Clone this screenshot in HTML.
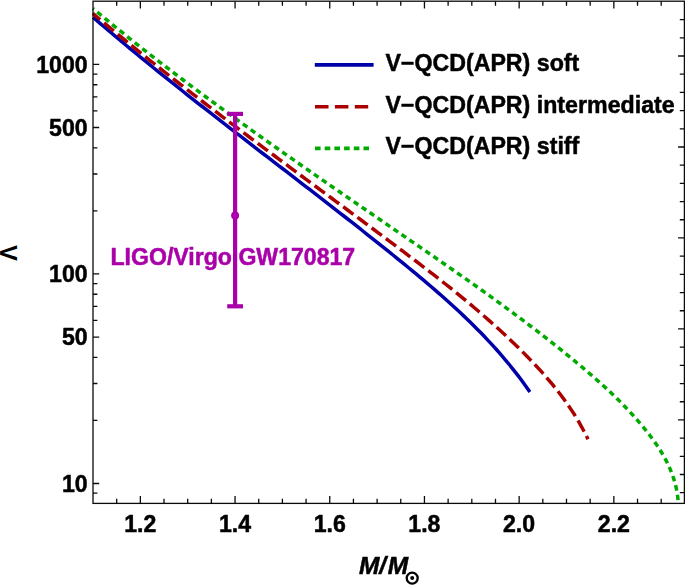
<!DOCTYPE html>
<html><head><meta charset="utf-8"><title>plot</title>
<style>html,body{margin:0;padding:0;background:#fff}body{width:685px;height:585px;overflow:hidden;font-family:"Liberation Sans",sans-serif}</style></head>
<body>
<svg width="685" height="585" viewBox="0 0 685 585" style="display:block">
<rect width="685" height="585" fill="#fff"/>
<filter id="nf" x="0" y="0" width="685" height="585" filterUnits="userSpaceOnUse"><feOffset dx="0" dy="0"/></filter>
<clipPath id="c"><rect x="92.0" y="1.2" width="592.4" height="502.2"/></clipPath>
<g fill="none" stroke-width="3.5" clip-path="url(#c)">
<path d="M93.01 17.25 L96.69 20.42 L100.37 23.58 L104.06 26.74 L107.76 29.88 L111.46 33.02 L115.17 36.15 L118.89 39.27 L122.61 42.38 L126.34 45.48 L130.07 48.58 L133.81 51.67 L137.55 54.75 L141.30 57.83 L145.06 60.90 L148.82 63.96 L152.58 67.01 L156.35 70.06 L160.12 73.11 L163.90 76.15 L167.68 79.18 L171.47 82.20 L175.26 85.23 L179.05 88.24 L182.85 91.25 L186.65 94.26 L190.45 97.26 L194.26 100.26 L198.07 103.26 L201.89 106.25 L205.70 109.23 L209.52 112.22 L213.35 115.20 L217.17 118.18 L221.00 121.15 L224.83 124.12 L228.66 127.09 L232.49 130.06 L236.32 133.02 L240.16 135.99 L244.00 138.95 L247.84 141.91 L251.68 144.87 L255.52 147.82 L259.36 150.78 L263.20 153.74 L267.04 156.69 L270.89 159.65 L274.73 162.60 L278.58 165.56 L282.42 168.51 L286.26 171.47 L290.11 174.43 L293.95 177.38 L297.79 180.34 L301.63 183.30 L305.48 186.27 L309.32 189.23 L313.15 192.19 L316.99 195.16 L320.83 198.13 L324.66 201.10 L328.50 204.08 L332.33 207.05 L336.16 210.03 L339.98 213.02 L343.81 216.00 L347.63 219.00 L351.45 221.99 L355.27 224.99 L359.08 227.99 L362.89 231.00 L366.70 234.01 L370.50 237.03 L374.31 240.05 L378.10 243.07 L381.90 246.11 L385.69 249.14 L389.47 252.19 L393.26 255.24 L397.03 258.29 L400.81 261.36 L404.57 264.43 L408.33 267.51 L412.08 270.59 L415.83 273.69 L419.56 276.80 L423.28 279.93 L426.99 283.06 L430.68 286.22 L434.36 289.38 L438.02 292.56 L441.67 295.76 L445.30 298.98 L448.91 302.22 L452.50 305.47 L456.07 308.75 L459.61 312.05 L463.14 315.37 L466.63 318.72 L470.11 322.09 L473.55 325.48 L476.97 328.90 L480.37 332.35 L483.73 335.82 L487.06 339.33 L490.36 342.87 L493.62 346.43 L496.86 350.03 L500.05 353.66 L503.21 357.32 L506.34 361.02 L509.42 364.76 L512.47 368.53 L515.48 372.34 L518.44 376.18 L521.37 380.07 L524.24 384.00 L527.08 387.96 L529.87 391.97" stroke="#0000aa"/>
<path d="M92.79 13.40 L96.42 16.47 L100.04 19.52 L103.67 22.57 L107.31 25.61 L110.95 28.64 L114.60 31.66 L118.25 34.68 L121.91 37.69 L125.57 40.69 L129.24 43.68 L132.91 46.67 L136.59 49.65 L140.27 52.62 L143.96 55.59 L147.65 58.55 L151.34 61.50 L155.04 64.44 L158.74 67.38 L162.45 70.32 L166.16 73.25 L169.87 76.17 L173.59 79.09 L177.31 82.00 L181.04 84.91 L184.76 87.81 L188.50 90.70 L192.23 93.59 L195.97 96.48 L199.71 99.36 L203.46 102.24 L207.20 105.11 L210.96 107.98 L214.71 110.85 L218.47 113.71 L222.22 116.57 L225.99 119.42 L229.75 122.27 L233.52 125.12 L237.29 127.96 L241.06 130.81 L244.83 133.64 L248.60 136.48 L252.38 139.31 L256.16 142.14 L259.94 144.97 L263.72 147.80 L267.51 150.62 L271.29 153.45 L275.08 156.27 L278.87 159.09 L282.66 161.90 L286.45 164.72 L290.24 167.54 L294.04 170.35 L297.83 173.16 L301.63 175.98 L305.42 178.79 L309.22 181.60 L313.02 184.41 L316.81 187.22 L320.61 190.04 L324.41 192.85 L328.21 195.66 L332.01 198.47 L335.81 201.29 L339.61 204.10 L343.41 206.91 L347.21 209.73 L351.00 212.55 L354.80 215.37 L358.60 218.19 L362.40 221.01 L366.20 223.83 L369.99 226.65 L373.79 229.48 L377.58 232.31 L381.38 235.14 L385.17 237.98 L388.96 240.81 L392.75 243.65 L396.54 246.49 L400.33 249.34 L404.12 252.19 L407.90 255.05 L411.67 257.91 L415.45 260.77 L419.21 263.65 L422.97 266.53 L426.73 269.42 L430.48 272.31 L434.22 275.22 L437.95 278.14 L441.67 281.06 L445.38 284.00 L449.08 286.95 L452.78 289.91 L456.46 292.89 L460.12 295.87 L463.78 298.87 L467.42 301.89 L471.05 304.92 L474.66 307.97 L478.26 311.03 L481.84 314.11 L485.40 317.21 L488.95 320.33 L492.48 323.46 L495.99 326.61 L499.49 329.79 L502.96 332.98 L506.41 336.20 L509.84 339.44 L513.25 342.70 L516.64 345.98 L520.00 349.29 L523.35 352.62 L526.66 355.97 L529.95 359.35 L533.21 362.76 L536.44 366.20 L539.64 369.67 L542.79 373.18 L545.91 376.71 L548.98 380.29 L552.01 383.90 L554.98 387.55 L557.91 391.24 L560.78 394.97 L563.59 398.74 L566.35 402.57 L569.04 406.43 L571.66 410.35 L574.22 414.32 L576.70 418.34 L579.11 422.41 L581.45 426.54 L583.70 430.72 L585.88 434.96 L587.96 439.26" stroke="#aa0000" stroke-dasharray="12.7 5.045" stroke-dashoffset="3.0"/>
<path d="M92.96 8.52 L95.45 10.60 L97.95 12.68 L100.45 14.75 L102.95 16.82 L105.45 18.88 L107.96 20.94 L110.47 22.99 L112.99 25.05 L115.51 27.09 L118.03 29.14 L120.55 31.17 L123.08 33.21 L125.61 35.24 L128.14 37.27 L130.67 39.29 L133.21 41.31 L135.75 43.33 L138.30 45.34 L140.84 47.35 L143.39 49.35 L145.94 51.36 L148.50 53.35 L151.05 55.35 L153.61 57.34 L156.17 59.33 L158.74 61.31 L161.31 63.29 L163.88 65.27 L166.45 67.24 L169.02 69.22 L171.60 71.18 L174.18 73.15 L176.76 75.11 L179.34 77.07 L181.93 79.02 L184.52 80.98 L187.11 82.93 L189.70 84.87 L192.29 86.82 L194.89 88.76 L197.49 90.70 L200.09 92.63 L202.69 94.56 L205.30 96.49 L207.91 98.42 L210.52 100.35 L213.13 102.27 L215.74 104.19 L218.35 106.10 L220.97 108.02 L223.59 109.93 L226.21 111.84 L228.83 113.75 L231.45 115.65 L234.08 117.56 L236.71 119.46 L239.34 121.36 L241.97 123.25 L244.60 125.15 L247.23 127.04 L249.87 128.93 L252.50 130.82 L255.14 132.70 L257.78 134.58 L260.42 136.47 L263.06 138.35 L265.71 140.23 L268.35 142.10 L271.00 143.98 L273.64 145.85 L276.29 147.72 L278.94 149.59 L281.59 151.46 L284.25 153.33 L286.90 155.19 L289.55 157.06 L292.21 158.92 L294.86 160.78 L297.52 162.64 L300.18 164.50 L302.84 166.35 L305.50 168.21 L308.16 170.06 L310.82 171.92 L313.49 173.77 L316.15 175.62 L318.81 177.47 L321.48 179.32 L324.14 181.17 L326.81 183.01 L329.48 184.86 L332.15 186.70 L334.81 188.55 L337.48 190.39 L340.15 192.24 L342.82 194.08 L345.49 195.92 L348.16 197.76 L350.84 199.60 L353.51 201.44 L356.18 203.28 L358.85 205.12 L361.52 206.96 L364.20 208.79 L366.87 210.63 L369.54 212.47 L372.22 214.30 L374.89 216.14 L377.57 217.98 L380.24 219.81 L382.91 221.65 L385.59 223.48 L388.26 225.32 L390.94 227.16 L393.61 228.99 L396.29 230.83 L398.96 232.66 L401.63 234.50 L404.31 236.33 L406.98 238.17 L409.65 240.01 L412.33 241.84 L415.00 243.68 L417.67 245.52 L420.35 247.36 L423.02 249.20 L425.69 251.03 L428.36 252.88 L431.03 254.72 L433.70 256.56 L436.36 258.40 L439.03 260.25 L441.70 262.09 L444.36 263.94 L447.02 265.79 L449.69 267.64 L452.35 269.50 L455.01 271.35 L457.66 273.21 L460.32 275.07 L462.97 276.93 L465.63 278.79 L468.28 280.66 L470.93 282.53 L473.57 284.40 L476.22 286.28 L478.86 288.15 L481.50 290.03 L484.14 291.92 L486.77 293.81 L489.41 295.70 L492.04 297.59 L494.66 299.49 L497.29 301.39 L499.91 303.30 L502.53 305.21 L505.15 307.12 L507.76 309.04 L510.37 310.96 L512.98 312.89 L515.58 314.82 L518.18 316.75 L520.78 318.69 L523.37 320.64 L525.96 322.59 L528.55 324.54 L531.13 326.50 L533.71 328.47 L536.28 330.44 L538.85 332.42 L541.42 334.40 L543.98 336.39 L546.54 338.38 L549.09 340.38 L551.64 342.38 L554.19 344.40 L556.73 346.41 L559.26 348.44 L561.79 350.47 L564.32 352.51 L566.84 354.55 L569.36 356.60 L571.87 358.66 L574.37 360.72 L576.87 362.80 L579.37 364.88 L581.86 366.96 L584.34 369.06 L586.81 371.16 L589.28 373.28 L591.74 375.40 L594.19 377.54 L596.62 379.69 L599.05 381.84 L601.47 384.01 L603.87 386.20 L606.26 388.39 L608.64 390.60 L611.00 392.83 L613.35 395.07 L615.68 397.32 L617.99 399.59 L620.29 401.88 L622.57 404.19 L624.83 406.51 L627.07 408.85 L629.30 411.21 L631.50 413.59 L633.68 415.98 L635.84 418.40 L637.98 420.84 L640.09 423.30 L642.18 425.78 L644.25 428.29 L646.29 430.82 L648.30 433.37 L650.28 435.95 L652.22 438.55 L654.13 441.18 L655.99 443.83 L657.80 446.51 L659.57 449.23 L661.27 451.97 L662.92 454.74 L664.51 457.54 L666.03 460.38 L667.48 463.25 L668.86 466.15 L670.16 469.09 L671.38 472.07 L672.51 475.08 L673.56 478.12 L674.51 481.21 L675.37 484.34 L676.12 487.50 L676.77 490.71 L677.32 493.96 L677.75 497.25 L678.06 500.58" stroke="#00aa00" stroke-dasharray="5.5 4.167" stroke-dashoffset="4.09"/>
</g>
<g stroke="#aa00aa" stroke-width="4.2" fill="#aa00aa">
<line x1="235.1" y1="113.9" x2="235.1" y2="306.3"/>
<line x1="227.2" y1="113.9" x2="243" y2="113.9"/>
<line x1="227.2" y1="306.3" x2="243" y2="306.3"/>
<circle cx="235.1" cy="215.4" r="4" stroke="none"/>
</g>
<g stroke="#0a0a0a" fill="none">
<rect x="93.0" y="1.2" width="591.4" height="502.2" stroke-width="1.3"/>
<path d="M116.68 503.35 v-4.50 M116.68 1.20 v4.50 M140.35 503.35 v-7.40 M140.35 1.20 v7.40 M164.02 503.35 v-4.50 M164.02 1.20 v4.50 M187.70 503.35 v-4.50 M187.70 1.20 v4.50 M211.38 503.35 v-4.50 M211.38 1.20 v4.50 M235.05 503.35 v-7.40 M235.05 1.20 v7.40 M258.73 503.35 v-4.50 M258.73 1.20 v4.50 M282.40 503.35 v-4.50 M282.40 1.20 v4.50 M306.07 503.35 v-4.50 M306.07 1.20 v4.50 M329.75 503.35 v-7.40 M329.75 1.20 v7.40 M353.43 503.35 v-4.50 M353.43 1.20 v4.50 M377.10 503.35 v-4.50 M377.10 1.20 v4.50 M400.77 503.35 v-4.50 M400.77 1.20 v4.50 M424.45 503.35 v-7.40 M424.45 1.20 v7.40 M448.12 503.35 v-4.50 M448.12 1.20 v4.50 M471.80 503.35 v-4.50 M471.80 1.20 v4.50 M495.48 503.35 v-4.50 M495.48 1.20 v4.50 M519.15 503.35 v-7.40 M519.15 1.20 v7.40 M542.83 503.35 v-4.50 M542.83 1.20 v4.50 M566.50 503.35 v-4.50 M566.50 1.20 v4.50 M590.18 503.35 v-4.50 M590.18 1.20 v4.50 M613.85 503.35 v-7.40 M613.85 1.20 v7.40 M637.52 503.35 v-4.50 M637.52 1.20 v4.50 M661.20 503.35 v-4.50 M661.20 1.20 v4.50 M93.00 64.45 h6.20 M93.00 74.04 h4.40 M93.00 84.75 h4.40 M93.00 96.91 h4.40 M93.00 110.93 h4.40 M93.00 127.52 h6.20 M93.00 147.83 h4.40 M93.00 174.00 h4.40 M93.00 210.90 h4.40 M93.00 273.97 h6.20 M93.00 283.56 h4.40 M93.00 294.27 h4.40 M93.00 306.43 h4.40 M93.00 320.45 h4.40 M93.00 337.04 h6.20 M93.00 357.35 h4.40 M93.00 383.52 h4.40 M93.00 420.42 h4.40 M93.00 483.49 h6.20 M93.00 493.08 h4.40 M684.40 19.60 h-4.60 M684.40 37.79 h-4.60 M684.40 55.99 h-6.30 M684.40 74.19 h-4.60 M684.40 92.39 h-4.60 M684.40 110.58 h-4.60 M684.40 128.78 h-4.60 M684.40 146.98 h-6.30 M684.40 165.17 h-4.60 M684.40 183.37 h-4.60 M684.40 201.57 h-4.60 M684.40 219.76 h-4.60 M684.40 237.96 h-6.30 M684.40 256.16 h-4.60 M684.40 274.35 h-4.60 M684.40 292.55 h-4.60 M684.40 310.75 h-4.60 M684.40 328.95 h-6.30 M684.40 347.14 h-4.60 M684.40 365.34 h-4.60 M684.40 383.54 h-4.60 M684.40 401.73 h-4.60 M684.40 419.93 h-6.30 M684.40 438.13 h-4.60 M684.40 456.32 h-4.60 M684.40 474.52 h-4.60 M684.40 492.72 h-4.60" stroke-width="1.3"/>
</g>
<g fill="none" stroke-width="3.6">
<line x1="314.8" y1="64.9" x2="373.6" y2="64.9" stroke="#0000aa"/>
<line x1="315" y1="106.8" x2="368.2" y2="106.8" stroke="#aa0000" stroke-dasharray="13.5 6.4"/>
<line x1="315" y1="148.4" x2="369" y2="148.4" stroke="#00aa00" stroke-dasharray="5.6 4.1"/>
</g>
<g font-family="Liberation Sans, sans-serif" font-weight="bold" font-size="23.1px" fill="#000" stroke="#000" stroke-width="0.5" stroke-linejoin="round" filter="url(#nf)">
<text x="385.4" y="70.7" font-size="23.2px" id="lg0">V−QCD(APR) soft</text>
<text x="385.4" y="112.5" font-size="23.2px" id="lg1">V−QCD(APR) intermediate</text>
<text x="385.4" y="154.2" font-size="23.2px" id="lg2">V−QCD(APR) stiff</text>
<text x="87.6" y="72.5" text-anchor="end" id="yl1000">1000</text>
<text x="87.6" y="135.5" text-anchor="end" id="yl500">500</text>
<text x="87.6" y="282.0" text-anchor="end" id="yl100">100</text>
<text x="87.6" y="345.0" text-anchor="end" id="yl50">50</text>
<text x="87.6" y="491.5" text-anchor="end" id="yl10">10</text>
<text x="140.3" y="532.2" text-anchor="middle" id="xl12">1.2</text>
<text x="235.0" y="532.2" text-anchor="middle" id="xl14">1.4</text>
<text x="329.8" y="532.2" text-anchor="middle" id="xl16">1.6</text>
<text x="424.4" y="532.2" text-anchor="middle" id="xl18">1.8</text>
<text x="519.1" y="532.2" text-anchor="middle" id="xl20">2.0</text>
<text x="613.9" y="532.2" text-anchor="middle" id="xl22">2.2</text>
<text x="110.5" y="264.7" fill="#aa00aa" stroke="#aa00aa" id="ligo">LIGO/Virgo GW170817</text>
<g font-style="italic" font-size="23.1px">
<text transform="translate(358.9 573.8) scale(1.06 1)" id="m1">M</text>
<text transform="translate(379.2 573.8) scale(1.06 1)" id="sl">/</text>
<text transform="translate(387.7 573.8) scale(1.06 1)" id="m2">M</text>
</g>
</g>
<circle cx="412.2" cy="578.1" r="5.5" fill="none" stroke="#000" stroke-width="2.3"/>
<circle cx="412.2" cy="578.1" r="2" fill="#000"/>
<text transform="translate(16.8 253.05) rotate(-90)" text-anchor="middle" font-family="Liberation Sans, sans-serif" font-weight="bold" font-size="24px" fill="#000" id="ylab">Λ</text>
</svg>
</body></html>
